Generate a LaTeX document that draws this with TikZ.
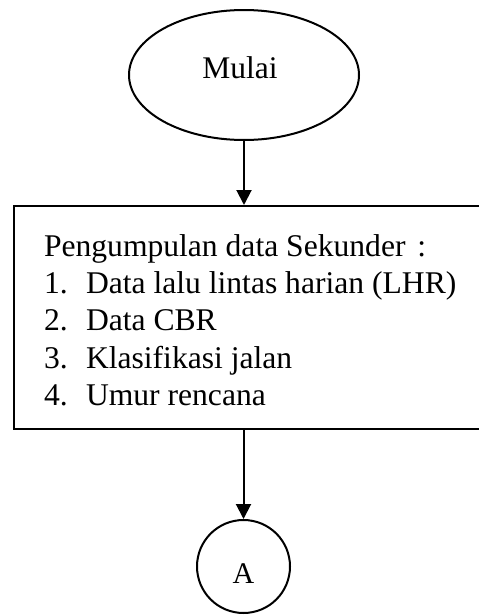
\documentclass[tikz,border=0pt]{standalone}
\usepackage{fontspec}
\setmainfont{Liberation Serif}
\usetikzlibrary{arrows.meta,shapes.geometric}
\begin{document}
\begin{tikzpicture}[x=1pt,y=-1pt,line width=2pt,
  arr/.style={-{Triangle[width=15pt,length=15pt]}},
  txt/.style={inner sep=0pt,font=\fontsize{31.6}{37}\selectfont},
  itemtxt/.style={txt,anchor=base west},
  lbl/.style={txt,anchor=base west}]
\useasboundingbox (0,0) rectangle (479,616);
\node[draw,ellipse,minimum width=230pt,minimum height=130pt,inner sep=0pt] (start) at (244,75) {};
\node[inner sep=0pt,font=\fontsize{31.5}{37}\selectfont,anchor=base] (starttext) at (240,78) {Mulai};
\node[draw,rectangle,minimum width=475pt,minimum height=223pt,anchor=north west,inner sep=0pt] (box) at (13,205) {};
\node[itemtxt] (head) at (43,256) {Pengumpulan data Sekunder\hspace{4pt} :};
\node[lbl] (n1) at (43,293) {1.};
\node[itemtxt] (i1) at (85,293) {Data lalu lintas harian (LHR)};
\node[lbl] (n2) at (43,330.5) {2.};
\node[itemtxt] (i2) at (85,330.5) {Data CBR};
\node[lbl] (n3) at (43,368) {3.};
\node[itemtxt] (i3) at (85,368) {Klasifikasi jalan};
\node[lbl] (n4) at (43,405) {4.};
\node[itemtxt] (i4) at (85,405) {Umur rencana};
\node[draw,circle,minimum size=93pt,inner sep=0pt] (A) at (243.5,566.5) {};
\node[inner sep=0pt,font=\fontsize{30}{34}\selectfont,anchor=base] (atext) at (243.5,583) {A};
\draw[arr] (start.south) -- (start.south |- box.north);
\draw[arr] (A.north |- box.south) -- (A.north);
\end{tikzpicture}
\end{document}
